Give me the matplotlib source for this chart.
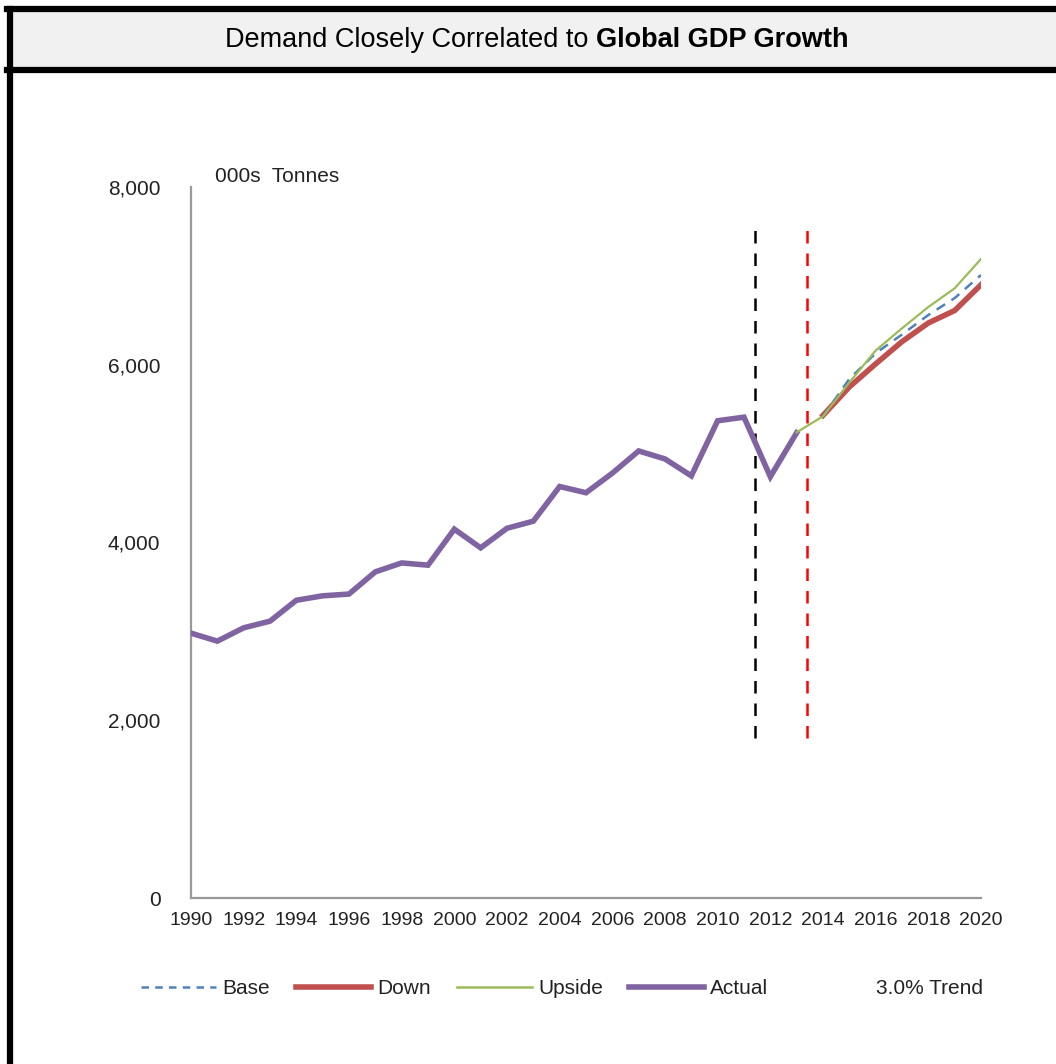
import numpy as np
import matplotlib.pyplot as plt
from matplotlib.lines import Line2D
from matplotlib.patches import Rectangle
from matplotlib.offsetbox import TextArea, HPacker, AnchoredOffsetbox

plt.rcParams["font.family"] = ["Liberation Sans", "DejaVu Sans"]

# actual demand, 000s tonnes
years_actual = list(range(1990, 2014))
actual = [2980, 2890, 3040, 3115, 3350, 3400, 3420, 3670, 3770, 3745,
          4150, 3940, 4160, 4240, 4630, 4560, 4780, 5030, 4940, 4750,
          5370, 5410, 4740, 5235]

# forecast scenarios
years_upside = list(range(2013, 2021))
upside = [5240, 5420, 5800, 6160, 6410, 6650, 6860, 7190]
years_base = list(range(2014, 2021))
base = [5420, 5840, 6130, 6340, 6560, 6750, 7010]
years_down = list(range(2014, 2021))
down = [5430, 5750, 6010, 6260, 6470, 6610, 6900]

# marker lines
vline_black_x = 2011.4
vline_red_x = 2013.4
vline_ymin = 1800
vline_ymax = 7600

year_ticks = list(range(1990, 2021, 2))
value_ticks = [0, 2000, 4000, 6000, 8000]

PURPLE = "#8064A2"
RED = "#C0504D"
GREEN = "#9BBB59"
BLUE = "#4F81BD"

fig = plt.figure(figsize=(10.56, 10.64), dpi=100)
W, H = 1056, 1064

# title band and frame
fig.patches.append(Rectangle((13 / W, 1 - 67 / H), 1, 55 / H,
                             transform=fig.transFigure, facecolor="#F1F1F1",
                             edgecolor="none", zorder=0))
for xs, ys in [([7 / W, 1], [1 - 9 / H, 1 - 9 / H]),
               ([7 / W, 1], [1 - 70 / H, 1 - 70 / H]),
               ([10 / W, 10 / W], [0, 1 - 9 / H])]:
    fig.add_artist(Line2D(xs, ys, transform=fig.transFigure, color="black",
                          lw=4.5, solid_capstyle="projecting"))

t1 = TextArea("Demand Closely Correlated to ",
              textprops=dict(fontsize=19.5, color="black"))
t2 = TextArea("Global GDP Growth",
              textprops=dict(fontsize=19.5, color="black", fontweight="bold"))
box = HPacker(children=[t1, t2], align="baseline", pad=0, sep=0)
anchored = AnchoredOffsetbox(loc="center", child=box, frameon=False,
                             bbox_to_anchor=(537 / W, 1 - 40 / H),
                             bbox_transform=fig.transFigure, pad=0, borderpad=0)
fig.add_artist(anchored)

ax = fig.add_axes([191 / W, 1 - 898 / H, 790 / W, 711 / H])

ax.plot(years_actual, actual, color=PURPLE, lw=4.0, zorder=3,
        solid_joinstyle="miter", label="Actual")
ax.plot(years_down, down, color=RED, lw=4.0, zorder=3, label="Down")
ax.plot(years_base, base, color=BLUE, lw=1.8, ls=(0, (4, 3)), zorder=4,
        label="Base")
ax.plot(years_upside, upside, color=GREEN, lw=1.6, zorder=5, label="Upside")

ax.vlines(vline_black_x, vline_ymin, vline_ymax, colors="black", lw=1.8,
          linestyles=(0, (5, 4)), zorder=2)
ax.vlines(vline_red_x, vline_ymin, vline_ymax, colors="#FF0000", lw=1.8,
          linestyles=(0, (5, 4)), zorder=2)

ax.set_xlim(1990, 2020)
ax.set_ylim(0, 8000)
ax.set_xticks(year_ticks)
ax.set_xticklabels([str(y) for y in year_ticks])
ax.set_yticks(value_ticks)
ax.set_yticklabels([f"{v:,}" for v in value_ticks])
ax.tick_params(axis="x", length=0, pad=10, labelsize=14, colors="#222222")
ax.tick_params(axis="y", length=0, pad=22, labelsize=15, colors="#222222")

for side in ["top", "right"]:
    ax.spines[side].set_visible(False)
for side in ["left", "bottom"]:
    ax.spines[side].set_color("#999999")
    ax.spines[side].set_linewidth(1.6)

ax.text(24 / 790, (898 - 176) / 711, "000s  Tonnes", transform=ax.transAxes,
        fontsize=15, va="center", ha="left", color="#222222")

handles = [
    Line2D([], [], color=BLUE, lw=1.8, ls=(0, (3, 2.5))),
    Line2D([], [], color=RED, lw=4.0),
    Line2D([], [], color=GREEN, lw=1.8),
    Line2D([], [], color=PURPLE, lw=4.0),
    Line2D([], [], color="none", lw=1.8),
]
labels = ["Base", "Down", "Upside", "Actual", "3.0% Trend"]
fig.legend(handles, labels, loc="center", ncol=5, frameon=False,
           bbox_to_anchor=(562 / W, 1 - 989 / H), fontsize=15,
           handlelength=3.6, handletextpad=0.3, columnspacing=1.25,
           labelcolor="#222222")

fig.savefig("out.png", dpi=100, facecolor="white")
